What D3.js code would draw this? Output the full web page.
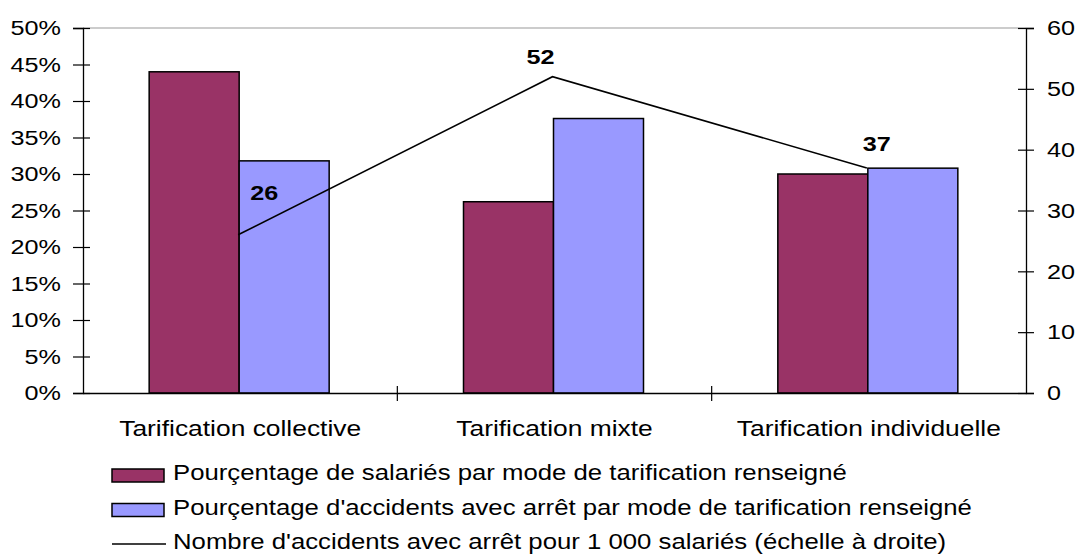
<!DOCTYPE html>
<html>
<head>
<meta charset="utf-8">
<script src="https://cdn.jsdelivr.net/npm/d3@7"></script>
<style>
  body { margin: 0; background: #fff; }
  svg text { font-family: "Liberation Sans", Arial, sans-serif; fill: #000; }
</style>
</head>
<body>
<div id="chart"></div>
<script>
var categories = ["Tarification collective", "Tarification mixte", "Tarification individuelle"];
var salaries = [44.0, 26.2, 30.0];   // % de salariés
var accidents = [31.8, 37.6, 30.8];  // % d'accidents avec arrêt
var taux = [26, 52, 37];             // accidents pour 1 000 salariés
var leftTicks = [0, 5, 10, 15, 20, 25, 30, 35, 40, 45, 50];
var rightTicks = [0, 10, 20, 30, 40, 50, 60];
var legendLabels = [
  "Pourçentage de salariés par mode de tarification renseigné",
  "Pourçentage d'accidents avec arrêt par mode de tarification renseigné",
  "Nombre d'accidents avec arrêt pour 1 000 salariés (échelle à droite)"
];

var colors = ["#993366", "#9999ff"];
// where excel put the value labels, relative to each point
var labelOffsets = [[26, -42], [-12, -20], [10, -24]];

var W = 1077, H = 554;
var margin = {top: 28, right: 51, bottom: 161, left: 83};
var width = W - margin.left - margin.right,
    height = H - margin.top - margin.bottom;

// the original text is a bit wide, stretch it horizontally
function stretch(sel, sx) {
  sel.each(function() {
    var t = d3.select(this);
    var tx = +t.attr("x") || 0;
    t.attr("x", 0).attr("transform", "translate(" + tx + ",0) scale(" + sx + ",1)");
  });
}

var svg = d3.select("#chart").append("svg")
    .attr("width", W)
    .attr("height", H);

var g = svg.append("g")
    .attr("transform", "translate(" + margin.left + "," + margin.top + ")");

var x = d3.scaleBand().domain(categories).range([0, width]).padding(0);
var xs = d3.scaleBand().domain([0, 1]).range([-91, 89]);
var y = d3.scaleLinear().domain([0, 50]).range([height, 0]);
var y2 = d3.scaleLinear().domain([0, 60]).range([height, 0]);

// top border of the plot area
g.append("line")
  .attr("x1", 0).attr("x2", width)
  .attr("y1", 0).attr("y2", 0)
  .attr("stroke", "#999").attr("stroke-width", 1);

// bars
var series = [salaries, accidents];
series.forEach(function(vals, s) {
  g.selectAll(".bar" + s)
    .data(vals)
    .enter().append("rect")
      .attr("x", function(d, i) { return x(categories[i]) + x.bandwidth() / 2 + xs(s); })
      .attr("width", xs.bandwidth())
      .attr("y", function(d) { return y(d); })
      .attr("height", function(d) { return height - y(d); })
      .attr("fill", colors[s])
      .attr("stroke", "#000")
      .attr("stroke-width", 1.5);
});

// line on right scale
var cx = function(i) { return x(categories[i]) + x.bandwidth() / 2 - 2; };
var line = d3.line()
  .x(function(d, i) { return cx(i); })
  .y(function(d) { return y2(d); });

g.append("path")
  .datum(taux)
  .attr("d", line)
  .attr("fill", "none")
  .attr("stroke", "#000")
  .attr("stroke-width", 1.6);

var lbl = g.selectAll(".lbl")
  .data(taux)
  .enter().append("text")
    .attr("x", function(d, i) { return cx(i) + labelOffsets[i][0]; })
    .attr("y", function(d, i) { return y2(d) + labelOffsets[i][1]; })
    .attr("text-anchor", "middle")
    .attr("dominant-baseline", "central")
    .style("font-size", "21px")
    .style("font-weight", "bold")
    .text(function(d) { return d; });
stretch(lbl, 1.2);

// axes
var axL = g.append("g")
  .call(d3.axisLeft(y).tickValues(leftTicks).tickSize(10).tickPadding(12)
    .tickFormat(function(d) { return d + "%"; }));
var axR = g.append("g")
  .attr("transform", "translate(" + width + ",0)")
  .call(d3.axisRight(y2).tickValues(rightTicks).tickSize(8).tickPadding(13));
var axB = g.append("g")
  .attr("transform", "translate(0," + height + ")")
  .call(d3.axisBottom(x).tickSize(0).tickPadding(27));

[axL, axR, axB].forEach(function(a) {
  a.select(".domain").attr("stroke", "#000").attr("stroke-width", 1.3);
  a.selectAll(".tick line").attr("stroke", "#000").attr("stroke-width", 1.2);
  a.selectAll("text").style("font-size", "21px").attr("font-family", null);
});
axB.selectAll("text").style("font-size", "22px");
stretch(axL.selectAll("text"), 1.2);
stretch(axR.selectAll("text"), 1.2);
stretch(axB.selectAll("text"), 1.2);

// crossing ticks (excel style)
axL.selectAll(".tick").append("line").attr("x2", 7).attr("stroke", "#000").attr("stroke-width", 1.2);
axR.selectAll(".tick").append("line").attr("x2", -8).attr("stroke", "#000").attr("stroke-width", 1.2);

// category separator ticks on x axis
g.selectAll(".sep")
  .data(categories.slice(1))
  .enter().append("line")
    .attr("x1", function(d) { return x(d); })
    .attr("x2", function(d) { return x(d); })
    .attr("y1", height - 7).attr("y2", height + 8)
    .attr("stroke", "#000").attr("stroke-width", 1.2);

// legend (rows placed on text baseline)
var legend = svg.append("g").attr("transform", "translate(112,480)");
var row = legend.selectAll("g")
  .data(legendLabels)
  .enter().append("g")
    .attr("transform", function(d, i) { return "translate(0," + (i * 34.5) + ")"; });

row.filter(function(d, i) { return i < 2; })
  .append("rect")
    .attr("x", 0).attr("y", -11)
    .attr("width", 52).attr("height", 13)
    .attr("fill", function(d, i) { return colors[i]; })
    .attr("stroke", "#000").attr("stroke-width", 1.5);

row.filter(function(d, i) { return i === 2; })
  .append("line")
    .attr("x1", 0).attr("x2", 54)
    .attr("y1", -5).attr("y2", -5)
    .attr("stroke", "#000").attr("stroke-width", 1.6);

var ltxt = row.append("text")
  .attr("x", 61)
  .style("font-size", "22px")
  .text(function(d) { return d; });
stretch(ltxt, 1.17);
</script>
</body>
</html>
